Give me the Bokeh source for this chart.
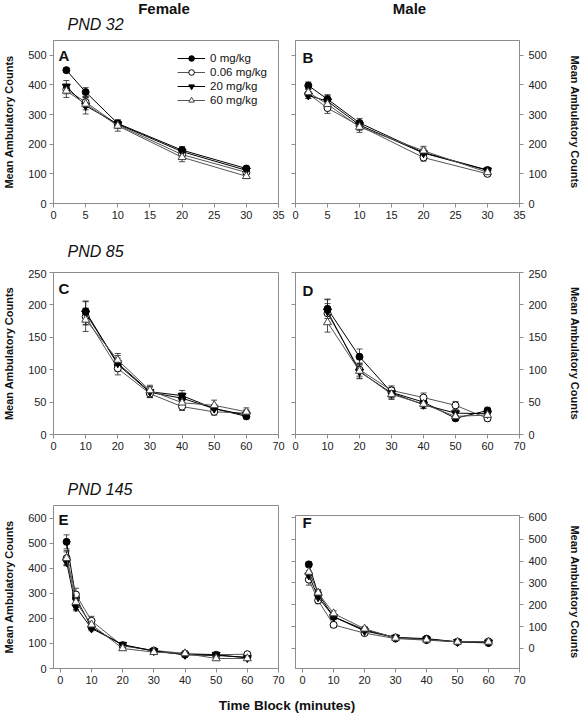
from bokeh.plotting import figure
from bokeh.models import (Range1d, FixedTicker, LinearAxis, Whisker, TeeHead,
                          ColumnDataSource, Label, Legend, LegendItem,
                          CustomLabelingPolicy, Spacer)
from bokeh.layouts import column, row
from bokeh.embed import file_html
from bokeh.resources import INLINE
from bokeh.core.properties import value

doses = ["0 mg/kg", "0.06 mg/kg", "20 mg/kg", "60 mg/kg"]

t_pnd32 = [2, 5, 10, 20, 30]
t_pnd85 = [10, 20, 30, 40, 50, 60]
t_pnd145 = [2, 5, 10, 20, 30, 40, 50, 60]

# Panel A: Female PND 32
f32_0 = [450, 376, 270, 180, 118]
f32_006 = [385, 342, 265, 165, 105]
f32_20 = [395, 330, 268, 175, 112]
f32_60 = [380, 336, 262, 156, 92]
f32_0_se = [8, 15, 12, 12, 8]
f32_006_se = [15, 18, 12, 12, 8]
f32_20_se = [20, 28, 14, 15, 8]
f32_60_se = [22, 20, 18, 15, 8]

# Panel B: Male PND 32
m32_0 = [398, 352, 272, 172, 113]
m32_006 = [370, 322, 262, 155, 100]
m32_20 = [365, 345, 265, 170, 112]
m32_60 = [375, 335, 258, 178, 105]
m32_0_se = [12, 15, 15, 15, 8]
m32_006_se = [15, 18, 15, 12, 8]
m32_20_se = [10, 20, 12, 12, 8]
m32_60_se = [12, 18, 18, 15, 10]

# Panel C: Female PND 85
f85_0 = [190, 108, 65, 56, 40, 28]
f85_006 = [182, 102, 63, 43, 35, 33]
f85_20 = [187, 110, 66, 60, 40, 30]
f85_60 = [177, 115, 68, 49, 45, 35]
f85_0_se = [16, 10, 8, 8, 6, 4]
f85_006_se = [12, 10, 6, 6, 5, 5]
f85_20_se = [18, 12, 8, 8, 6, 5]
f85_60_se = [18, 10, 8, 7, 8, 6]

# Panel D: Male PND 85
m85_0 = [194, 120, 65, 50, 25, 37]
m85_006 = [187, 100, 68, 57, 45, 25]
m85_20 = [190, 97, 64, 46, 33, 32]
m85_60 = [173, 98, 62, 47, 28, 30]
m85_0_se = [15, 12, 8, 6, 4, 5]
m85_006_se = [15, 10, 7, 7, 6, 4]
m85_20_se = [18, 10, 8, 6, 5, 5]
m85_60_se = [15, 12, 8, 6, 5, 5]

# Panel E: Female PND 145
f145_0 = [505, 281, 165, 93, 70, 55, 52, 45]
f145_006 = [440, 295, 190, 90, 72, 60, 55, 57]
f145_20 = [425, 245, 160, 95, 70, 55, 55, 42]
f145_60 = [440, 265, 175, 80, 65, 60, 40, 40]
f145_0_se = [28, 20, 10, 8, 6, 6, 5, 5]
f145_006_se = [25, 25, 18, 8, 6, 6, 6, 6]
f145_20_se = [15, 15, 10, 8, 6, 6, 6, 5]
f145_60_se = [30, 30, 12, 8, 6, 6, 6, 5]

# Panel F: Male PND 145
m145_0 = [385, 250, 145, 85, 50, 45, 30, 25]
m145_006 = [315, 220, 108, 70, 45, 38, 30, 32]
m145_20 = [335, 235, 145, 80, 50, 42, 30, 28]
m145_60 = [350, 255, 160, 90, 48, 40, 30, 30]
m145_0_se = [12, 15, 12, 8, 6, 6, 5, 4]
m145_006_se = [25, 15, 12, 8, 6, 5, 4, 4]
m145_20_se = [20, 15, 10, 8, 6, 5, 4, 4]
m145_60_se = [25, 15, 12, 10, 6, 5, 4, 4]

xticks_35 = [0, 5, 10, 15, 20, 25, 30, 35]
xticks_70 = [0, 10, 20, 30, 40, 50, 60, 70]
yticks_500 = [0, 100, 200, 300, 400, 500]
yticks_250 = [0, 50, 100, 150, 200, 250]
yticks_600 = [0, 100, 200, 300, 400, 500, 600]

FONT = "Liberation Sans"
GRAY = "#8c8c8c"
INK = "#111111"
YLABEL = "Mean Ambulatory Counts"

STYLES = [
    dict(marker="circle", fill="black", line="black", lc="black", size=7),
    dict(marker="circle", fill="white", line="black", lc="#555555", size=7),
    dict(marker="inverted_triangle", fill="black", line="black", lc="black", size=8),
    dict(marker="triangle", fill="white", line="#444444", lc="#555555", size=8),
]

WL, WR = 286, 297
LB_L, RB_L = 50, 8
LB_R, RB_R = 9, 61
TOTAL_W = WL + WR


def style_axis(ax, ticks, labels=True, standoff=3):
    ax.ticker = FixedTicker(ticks=ticks)
    ax.minor_tick_line_color = None
    ax.major_tick_in = 0
    ax.major_tick_out = 4
    ax.axis_line_color = GRAY
    ax.major_tick_line_color = GRAY
    ax.major_label_text_font = FONT
    ax.major_label_text_color = "#222222"
    if labels:
        ax.major_label_text_font_size = "11px"
        ax.major_label_standoff = standoff
    else:
        ax.major_label_text_font_size = "1px"
        ax.major_label_standoff = 0
        ax.major_label_policy = CustomLabelingPolicy(
            code="for (const i of indices) { if (i < 0) { yield i } }")


def make_panel(x, ys, errs, xr, yr, xticks, yticks, side, w, h, bl, br, bt, bb,
               letter, letter_dy=15, legend=False):
    p = figure(width=w, height=h, x_range=Range1d(*xr), y_range=Range1d(*yr),
               toolbar_location=None, output_backend="svg",
               x_axis_type=None, y_axis_type=None,
               min_border_left=bl, min_border_right=br,
               min_border_top=bt, min_border_bottom=bb)
    p.outline_line_color = GRAY
    p.background_fill_color = "white"
    p.border_fill_color = "white"

    xa = LinearAxis()
    style_axis(xa, xticks)
    p.add_layout(xa, "below")

    ya = LinearAxis()
    ya.axis_label = YLABEL
    ya.axis_label_text_font = FONT
    ya.axis_label_text_font_style = "bold"
    ya.axis_label_text_font_size = "11px"
    ya.axis_label_text_color = INK
    if side == "left":
        style_axis(ya, yticks)
        ya.axis_label_standoff = 10
        p.add_layout(ya, "left")
    else:
        style_axis(ya, yticks, standoff=5)
        ya.axis_label_standoff = 19
        p.add_layout(ya, "right")
        ya2 = LinearAxis()
        style_axis(ya2, yticks, labels=False)
        p.add_layout(ya2, "left")

    items = []
    for i in range(4):
        st = STYLES[i]
        src = ColumnDataSource(dict(x=x, y=ys[i],
                                    lo=[a - b for a, b in zip(ys[i], errs[i])],
                                    hi=[a + b for a, b in zip(ys[i], errs[i])]))
        wk = Whisker(source=src, base="x", upper="hi", lower="lo",
                     line_color="#222222", line_width=0.8,
                     upper_head=TeeHead(size=6, line_color="#222222", line_width=0.8),
                     lower_head=TeeHead(size=6, line_color="#222222", line_width=0.8))
        p.add_layout(wk)
        lr = p.line("x", "y", source=src, line_color=st["lc"], line_width=1)
        sr = p.scatter("x", "y", source=src, marker=st["marker"], size=st["size"],
                       fill_color=st["fill"], line_color=st["line"], line_width=1)
        items.append(LegendItem(label=doses[i], renderers=[lr, sr]))

    if legend:
        leg = Legend(items=items, location="top_right", border_line_color=None,
                     background_fill_alpha=0, padding=0, margin=11, spacing=0,
                     glyph_width=28, glyph_height=14, label_height=14,
                     label_standoff=5, label_text_font=FONT,
                     label_text_font_size="11.5px", label_text_color=INK)
        p.add_layout(leg)

    fh = h - bt - bb
    lx = 5 if side == "left" else 7
    p.add_layout(Label(x=lx, y=fh - letter_dy, x_units="screen", y_units="screen",
                       text=letter, text_font=FONT, text_font_style="bold",
                       text_font_size="15px", text_baseline="middle",
                       text_color=INK))
    return p


def header(h, texts):
    """A strip figure whose data space equals its pixel space; holds header texts."""
    hp = figure(width=TOTAL_W, height=h, x_range=Range1d(0, TOTAL_W), y_range=Range1d(0, h),
                toolbar_location=None, output_backend="svg",
                x_axis_type=None, y_axis_type=None, min_border=0)
    hp.outline_line_color = None
    for (tx, ty, txt, size, style, align) in texts:
        hp.text(x=[tx], y=[ty], text=[txt], text_align=align, text_baseline="middle",
                text_font=value(FONT), text_font_style=style,
                text_font_size=value(size), text_color=INK)
    return hp


h1 = header(39, [(163.5, 31.5, "Female", "15px", "bold", "center"),
                 (409, 31.5, "Male", "15px", "bold", "center"),
                 (67, 15, "PND 32", "16px", "italic", "left")])
h2 = header(36, [(67, 18.5, "PND 85", "16px", "italic", "left")])
h3 = header(34, [(67, 13, "PND 145", "16px", "italic", "left")])

pA = make_panel(t_pnd32, [f32_0, f32_006, f32_20, f32_60],
                [f32_0_se, f32_006_se, f32_20_se, f32_60_se],
                (0, 35), (0, 550), xticks_35, yticks_500, "left",
                WL, 194, LB_L, RB_L, 1, 30, "A", letter_dy=15, legend=True)
pB = make_panel(t_pnd32, [m32_0, m32_006, m32_20, m32_60],
                [m32_0_se, m32_006_se, m32_20_se, m32_60_se],
                (0, 35), (0, 550), xticks_35, yticks_500, "right",
                WR, 194, LB_R, RB_R, 1, 30, "B", letter_dy=17)

pC = make_panel(t_pnd85, [f85_0, f85_006, f85_20, f85_60],
                [f85_0_se, f85_006_se, f85_20_se, f85_60_se],
                (0, 70), (0, 250), xticks_70, yticks_250, "left",
                WL, 199, LB_L, RB_L, 3, 34, "C", letter_dy=16)
pD = make_panel(t_pnd85, [m85_0, m85_006, m85_20, m85_60],
                [m85_0_se, m85_006_se, m85_20_se, m85_60_se],
                (0, 70), (0, 250), xticks_70, yticks_250, "right",
                WR, 199, LB_R, RB_R, 3, 34, "D", letter_dy=18)

pE = make_panel(t_pnd145, [f145_0, f145_006, f145_20, f145_60],
                [f145_0_se, f145_006_se, f145_20_se, f145_60_se],
                (-2.2, 70), (0, 650), xticks_70, yticks_600, "left",
                WL, 188, LB_L, RB_L, 3, 22, "E", letter_dy=14)
pF = make_panel(t_pnd145, [m145_0, m145_006, m145_20, m145_60],
                [m145_0_se, m145_006_se, m145_20_se, m145_60_se],
                (-2.3, 70), (-92, 609), xticks_70, yticks_600, "right",
                WR, 178, LB_R, RB_R, 3, 22, "F", letter_dy=7)

# bottom shared x-axis title
pL = figure(width=TOTAL_W, height=26, x_range=Range1d(0, TOTAL_W), y_range=Range1d(0, 26),
            toolbar_location=None, output_backend="svg",
            x_axis_type=None, y_axis_type=None, min_border=0)
pL.outline_line_color = None
pL.text(x=[286.5], y=[11], text=["Time Block (minutes)"], text_align="center",
        text_baseline="middle", text_font=value(FONT), text_font_style="bold",
        text_font_size=value("13.5px"), text_color=INK)

layout = column(h1, row(pA, pB), h2, row(pC, pD), h3,
                row(pE, column(Spacer(width=WR, height=10), pF)), pL,
                styles={"position": "absolute", "left": "0px", "top": "0px"})

open("out.html", "w").write(file_html(layout, INLINE))
